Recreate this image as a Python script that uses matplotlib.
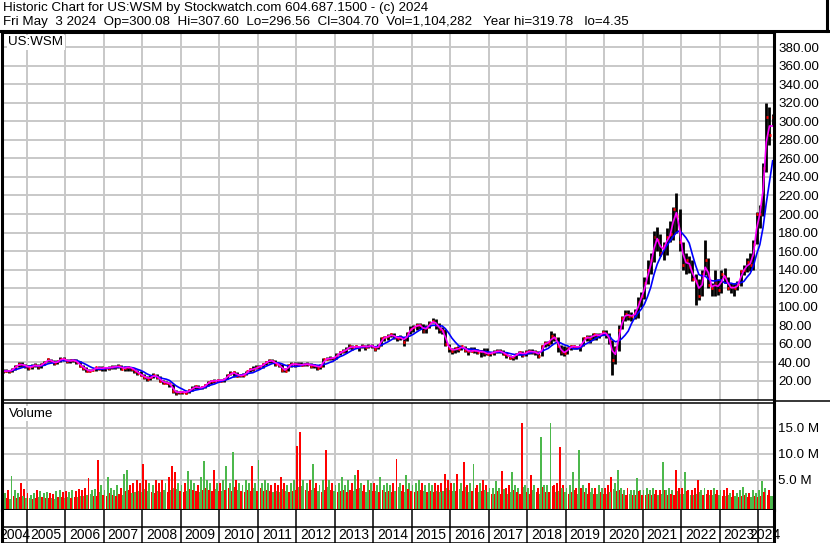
import numpy as np
import pandas as pd
import matplotlib
matplotlib.use('Agg')
import matplotlib.pyplot as plt
from matplotlib.lines import Line2D

plt.rcParams['font.family'] = ['Liberation Sans', 'DejaVu Sans']

# monthly bars, May 2004 .. May 2024 (one row per year)
close = [30, 31, 30, 33, 36, 38, 37, 36,
         34, 36, 37, 35, 38, 40, 43, 41, 39, 41, 44, 43,
         41, 42, 42, 40, 36, 34, 31, 30.5, 32, 34.5, 33, 34,
         34, 34, 35, 35, 36, 33, 34, 35, 33, 31, 28, 26,
         24, 22, 24, 26, 24, 20, 18, 18, 16, 9, 7, 8,
         8, 7, 10, 12, 14, 12, 13, 15, 19, 20, 19.5, 21,
         20, 22, 26, 28, 29, 25, 26, 26, 30, 33, 32, 35,
         35, 38, 40, 42, 41, 38, 37, 32, 31, 37, 38, 38,
         37.5, 37, 38, 38, 36, 37, 34, 36, 44, 43, 45, 44,
         48, 51, 52, 54, 57, 56, 57, 56, 58, 56, 58, 58,
         54, 58, 66, 67, 68, 70, 67, 66, 67, 62, 72, 76,
         78, 80, 80, 74, 78, 82, 85, 80, 76, 74, 60, 55,
         52, 55, 54, 58, 53, 52, 52, 53, 51, 52, 50, 49,
         50, 51, 52, 52, 49, 48, 45, 46, 49, 51, 48, 51,
         52, 51, 51, 47, 58, 61, 61, 68, 66, 57, 51, 50,
         55, 57, 57, 56, 58, 66, 67, 66, 70, 69, 69, 73,
         70, 63, 42, 55, 75, 88, 92, 90, 90, 93, 105, 112,
         125, 140, 150, 175, 172, 158, 166, 175, 178, 205, 198, 170,
         145, 150, 143, 130, 128, 112, 135, 150, 123, 120, 126, 118,
         135, 132, 120, 121, 120, 124, 138, 140, 148, 145, 168, 200,
         200, 250, 305, 285, 305]

high = [33, 33, 32, 34, 37, 40, 40, 38,
        37, 38, 39, 38, 39, 41, 45, 44, 42, 42, 46, 46,
        44, 43, 44, 43, 41, 37, 35, 33, 33, 35, 36, 36,
        35, 36, 37, 37, 38, 37, 36, 36, 35, 34, 32, 30,
        27, 25, 26, 28, 27, 25, 21, 20, 19, 16, 10, 9,
        9, 9, 11, 14, 15, 15, 14, 16, 20, 21, 22, 22,
        22, 23, 27, 31, 31, 29, 27, 28, 31, 34, 36, 37,
        37, 39, 41, 43, 43, 42, 39, 38, 34, 38, 40, 40,
        40, 40, 39, 40, 39, 38, 37, 38, 45, 46, 47, 46,
        50, 52, 54, 56, 60, 59, 59, 58, 60, 59, 60, 60,
        58, 60, 67, 68, 70, 72, 71, 68, 69, 67, 73, 79,
        80, 82, 82, 81, 80, 84, 88, 87, 82, 78, 76, 60,
        55, 56, 57, 59, 58, 55, 56, 56, 54, 53, 55, 55,
        51, 53, 54, 54, 53, 51, 48, 47, 50, 52, 52, 53,
        54, 54, 53, 52, 59, 63, 63, 74, 71, 67, 59, 58,
        56, 59, 59, 58, 60, 67, 69, 69, 71, 72, 72, 75,
        75, 72, 64, 58, 80, 90, 96, 96, 94, 97, 110, 116,
        132, 150, 158, 182, 186, 178, 170, 185, 192, 208, 223, 205,
        170, 158, 155, 150, 135, 130, 140, 172, 152, 126, 140, 130,
        140, 142, 132, 125, 126, 128, 140, 145, 152, 158, 172, 202,
        210, 255, 320, 315, 308]

low = [28, 29, 28, 29, 32, 35, 35, 34,
       32, 33, 35, 33, 34, 37, 40, 40, 37, 38, 40, 41,
       39, 39, 40, 38, 35, 32, 29, 29, 30, 31, 32, 31,
       31, 32, 33, 33, 34, 32, 31, 31, 31, 28, 26, 25,
       22, 20, 21, 23, 22, 19, 16, 16, 13, 7, 5, 6,
       6, 6, 7, 9, 11, 11, 11, 12, 14, 17, 18, 19,
       19, 19, 22, 26, 24, 24, 24, 24, 26, 29, 31, 33,
       33, 34, 37, 39, 39, 36, 35, 29, 29, 30, 35, 35,
       36, 36, 36, 36, 34, 34, 32, 33, 35, 42, 42, 42,
       44, 48, 50, 50, 54, 53, 55, 52, 55, 53, 55, 55,
       52, 54, 58, 63, 64, 67, 65, 63, 64, 58, 63, 70,
       73, 75, 76, 71, 72, 77, 82, 76, 72, 70, 57, 51,
       49, 50, 51, 53, 51, 48, 51, 50, 49, 46, 47, 48,
       47, 48, 50, 50, 48, 45, 44, 42, 43, 48, 46, 47,
       49, 49, 48, 45, 47, 56, 58, 60, 63, 51, 48, 47,
       49, 53, 54, 54, 52, 58, 63, 61, 64, 64, 66, 69,
       66, 60, 26, 38, 52, 76, 85, 86, 84, 87, 88, 100,
       108, 124, 135, 148, 160, 155, 150, 156, 170, 172, 180, 160,
       140, 135, 136, 128, 102, 107, 112, 134, 120, 112, 112, 113,
       115, 126, 118, 115, 112, 118, 122, 134, 137, 138, 140, 168,
       185, 198, 245, 275, 295]

# volume in millions: biggest day and a typical day of each month
vol_peak = [3.0, 2.5, 3.0, 5.8, 3.0, 2.5, 4.4, 3.2,
            2.5, 2.1, 2.5, 3.0, 2.9, 2.5, 2.6, 2.5, 2.4, 2.8, 3.0, 2.6,
            2.8, 2.6, 3.0, 2.8, 3.3, 3.0, 3.5, 5.4, 3.0, 3.2, 8.8, 4.1,
            3.0, 5.6, 3.5, 3.0, 4.0, 3.5, 6.2, 7.0, 4.0, 4.5, 5.0, 4.5,
            8.1, 5.0, 4.5, 4.0, 5.0, 4.5, 5.0, 4.5, 5.5, 7.7, 6.5, 4.5,
            4.0, 4.5, 6.7, 5.0, 4.5, 4.0, 5.5, 8.6, 5.0, 4.5, 6.9, 4.5,
            4.5, 5.0, 7.7, 4.5, 10.4, 5.0, 4.5, 4.0, 5.0, 4.5, 7.7, 4.5,
            8.8, 4.5, 5.0, 4.5, 4.0, 4.5, 4.0, 5.5, 4.5, 4.0, 4.5, 5.0,
            11.5, 14.2, 5.0, 4.5, 5.0, 8.1, 4.5, 4.0, 5.0, 10.8, 5.0, 4.5,
            4.0, 4.5, 5.5, 4.0, 5.0, 4.5, 6.0, 7.0, 4.5, 4.0, 5.0, 4.5,
            4.5, 4.0, 5.5, 4.0, 4.5, 4.0, 4.5, 9.0, 4.5, 4.0, 6.0, 4.5,
            4.0, 4.5, 5.0, 4.5, 4.0, 4.5, 4.0, 4.5, 4.0, 4.5, 6.2, 5.0,
            4.5, 4.5, 6.2, 4.5, 8.5, 4.0, 4.5, 8.1, 4.0, 4.5, 5.0, 4.0,
            3.5, 3.5, 4.8, 3.5, 6.7, 3.5, 4.0, 6.5, 4.0, 3.5, 16.0, 4.0,
            3.5, 6.0, 4.0, 3.5, 13.3, 4.0, 4.0, 16.0, 4.0, 4.5, 11.3, 4.0,
            3.5, 4.0, 6.5, 3.5, 10.8, 4.0, 3.5, 4.4, 3.5, 3.5, 4.0, 3.5,
            3.5, 4.0, 5.5, 4.5, 6.9, 3.5, 3.0, 3.5, 3.0, 3.0, 5.4, 3.0,
            3.0, 3.5, 3.0, 3.5, 3.0, 3.0, 8.5, 3.0, 3.5, 3.0, 7.0, 3.5,
            3.5, 6.5, 3.0, 3.0, 3.5, 5.0, 3.0, 3.5, 3.0, 3.0, 3.5, 3.0,
            3.0, 3.0, 3.5, 2.5, 3.0, 2.5, 3.0, 3.7, 2.5, 2.5, 3.0, 2.5,
            3.0, 4.8, 3.5, 3.0, 2.0]

vol_base = [1.5, 1.6, 1.4, 2.0, 1.6, 1.8, 2.0, 1.5,
            1.6, 1.4, 1.5, 1.7, 1.8, 1.5, 1.6, 1.5, 1.4, 1.7, 1.8, 1.5,
            1.7, 1.6, 1.8, 1.7, 2.0, 1.9, 2.1, 2.4, 1.9, 2.0, 2.6, 2.2,
            2.0, 2.5, 2.2, 2.0, 2.4, 2.2, 2.8, 3.0, 2.5, 2.6, 2.8, 2.6,
            3.2, 2.8, 2.6, 2.5, 2.8, 2.6, 3.0, 2.7, 3.0, 3.4, 3.2, 2.8,
            2.6, 2.8, 3.2, 3.0, 2.8, 2.6, 3.0, 3.4, 3.0, 2.8, 3.2, 2.8,
            2.8, 3.0, 3.4, 2.8, 3.6, 3.0, 2.8, 2.6, 3.0, 2.8, 3.4, 2.8,
            3.4, 2.8, 3.0, 2.8, 2.6, 2.8, 2.6, 3.2, 2.8, 2.6, 2.8, 3.0,
            3.6, 3.8, 3.0, 2.8, 3.0, 3.4, 2.8, 2.6, 3.0, 3.6, 3.0, 2.8,
            2.6, 2.8, 3.0, 2.6, 3.0, 2.8, 3.2, 3.4, 2.8, 2.6, 3.0, 2.8,
            2.8, 2.6, 3.0, 2.6, 2.8, 2.6, 2.8, 3.6, 2.8, 2.6, 3.2, 2.8,
            2.6, 2.8, 3.0, 2.8, 2.6, 2.8, 2.6, 2.8, 2.6, 2.8, 3.4, 3.0,
            2.8, 2.8, 3.2, 2.8, 3.6, 2.6, 2.8, 3.4, 2.6, 2.8, 3.0, 2.6,
            2.4, 2.4, 2.8, 2.4, 3.2, 2.4, 2.6, 3.0, 2.6, 2.4, 3.6, 2.6,
            2.4, 3.0, 2.6, 2.4, 3.6, 2.6, 2.6, 3.8, 2.6, 2.8, 3.4, 2.6,
            2.4, 2.6, 3.0, 2.4, 3.4, 2.6, 2.4, 2.6, 2.4, 2.4, 2.6, 2.4,
            2.4, 2.6, 3.2, 2.8, 3.0, 2.4, 2.2, 2.4, 2.2, 2.2, 2.8, 2.2,
            2.2, 2.4, 2.2, 2.4, 2.2, 2.4, 3.0, 2.2, 2.4, 2.2, 2.8, 2.4,
            2.4, 2.8, 2.2, 2.2, 2.4, 2.6, 2.2, 2.4, 2.2, 2.2, 2.4, 2.2,
            2.0, 2.0, 2.2, 1.8, 2.0, 1.8, 2.0, 2.2, 1.8, 1.8, 2.0, 1.8,
            2.0, 2.6, 2.2, 2.0, 1.5]

years = list(range(2004, 2025))
price_ticks = list(range(20, 381, 20))
vol_ticks = [5, 10, 15]

title1 = 'Historic Chart for US:WSM by Stockwatch.com 604.687.1500 - (c) 2024'
title2 = ('Fri May  3 2024  Op=300.08  Hi=307.60  Lo=296.56  Cl=304.70  '
          'Vol=1,104,282   Year hi=319.78   lo=4.35')

W, H = 830, 543
fig = plt.figure(figsize=(W / 100, H / 100), dpi=100)

def box(l, t, r, b):
    return [l / W, 1 - b / H, (r - l) / W, (b - t) / H]

x = 2004 + (4 + np.arange(len(close))) / 12 + 1 / 24
xmin, xmax = 2004.358, 2024.41
grid_c = '#c8c8c8'
green = '#4cb84c'
fs = 9.6

s = pd.Series(close)
ma_fast = s.rolling(2, min_periods=1).mean()
ma_slow = s.rolling(6, min_periods=1).mean()
up = np.r_[True, np.diff(close) >= 0]

# price panel
ax = fig.add_axes(box(2, 32, 774, 400))
ax.vlines(x, low, high, color='black', lw=2.0)
ax.hlines(close, x - 0.01, x + 0.04, color='red', lw=2.0)
ax.plot(x, ma_slow, color='#0000ff', lw=1.2)
ax.plot(x, ma_fast, color='#ff00ff', lw=1.2)
ax.set_xlim(xmin, xmax)
ax.set_ylim(-0.8, 396.5)
ax.set_yticks(price_ticks)
ax.set_yticklabels([f'{v:.2f}' for v in price_ticks])
ax.set_xticks(years[1:])
ax.set_xticklabels([])
ax.grid(True, color=grid_c, lw=1.4)
ax.set_axisbelow(True)
ax.tick_params(axis='y', left=False, right=True, labelleft=False,
               labelright=True, length=0, pad=3, labelsize=fs)
ax.tick_params(axis='x', length=0)
ax.text(0.008, 0.988, 'US:WSM', transform=ax.transAxes, fontsize=fs,
        va='top', ha='left', bbox=dict(fc='white', ec='none', pad=1))

# volume panel
av = fig.add_axes(box(2, 403, 774, 510))
pk_col = [green if u else 'red' for u in up]
bs_col = ['red' if u else green for u in up]
vb = -0.77
av.bar(x - 1 / 48, np.array(vol_peak) - vb, width=0.05, bottom=vb,
       color=pk_col, linewidth=0)
av.bar(x + 1 / 40, np.array(vol_base) - vb, width=0.035, bottom=vb,
       color=bs_col, linewidth=0)
av.set_xlim(xmin, xmax)
av.set_ylim(vb, 19.8)
av.set_yticks(vol_ticks)
av.set_yticklabels([f'{v:.1f} M' for v in vol_ticks])
av.set_xticks(years[1:])
av.set_xticklabels([])
av.grid(True, color=grid_c, lw=1.4)
av.set_axisbelow(True)
av.tick_params(axis='y', left=False, right=True, labelleft=False,
               labelright=True, length=0, pad=3, labelsize=fs)
av.tick_params(axis='x', length=0)
av.text(0.009, 0.955, 'Volume', transform=av.transAxes, fontsize=fs,
        va='top', ha='left', bbox=dict(fc='white', ec='none', pad=1))

# date strip
ad = fig.add_axes(box(2, 510, 774, 543))
ad.set_xlim(xmin, xmax)
ad.set_ylim(0, 1)
ad.vlines(years[1:], 0, 1, color='black', lw=1.1)
ad.axhline(0.5, color='black', lw=1.1)
for yr in years:
    a, b = max(yr, xmin), min(yr + 1, 2024.36)
    ad.text((a + b) / 2, 0.24, str(yr), ha='center', va='center',
            fontsize=10, clip_on=(yr == years[0]))
ad.set_xticks([])
ad.set_yticks([])

for a in (ax, av, ad):
    for side in ('left', 'right'):
        a.spines[side].set_linewidth(2.2)
ax.spines['top'].set_linewidth(2.2)
ax.spines['bottom'].set_linewidth(1.1)
av.spines['top'].set_linewidth(1.1)
av.spines['bottom'].set_linewidth(2.2)
ad.spines['top'].set_visible(False)
ad.spines['bottom'].set_linewidth(1.1)

# header box and outer lines
fig.add_artist(Line2D([0, 1], [1 - 31 / H] * 2, color='black', lw=2.2))
fig.add_artist(Line2D([827 / W] * 2, [1, 1 - 31 / H], color='black', lw=2.2))
fig.add_artist(Line2D([774 / W, 1], [1 - 400.5 / H] * 2, color='black', lw=1.1))
fig.text(3 / W, 1 - 8.5 / H, title1, fontsize=fs, va='center', ha='left')
fig.text(3 / W, 1 - 22.5 / H, title2, fontsize=fs, va='center', ha='left')

fig.savefig('out.png', dpi=100)
